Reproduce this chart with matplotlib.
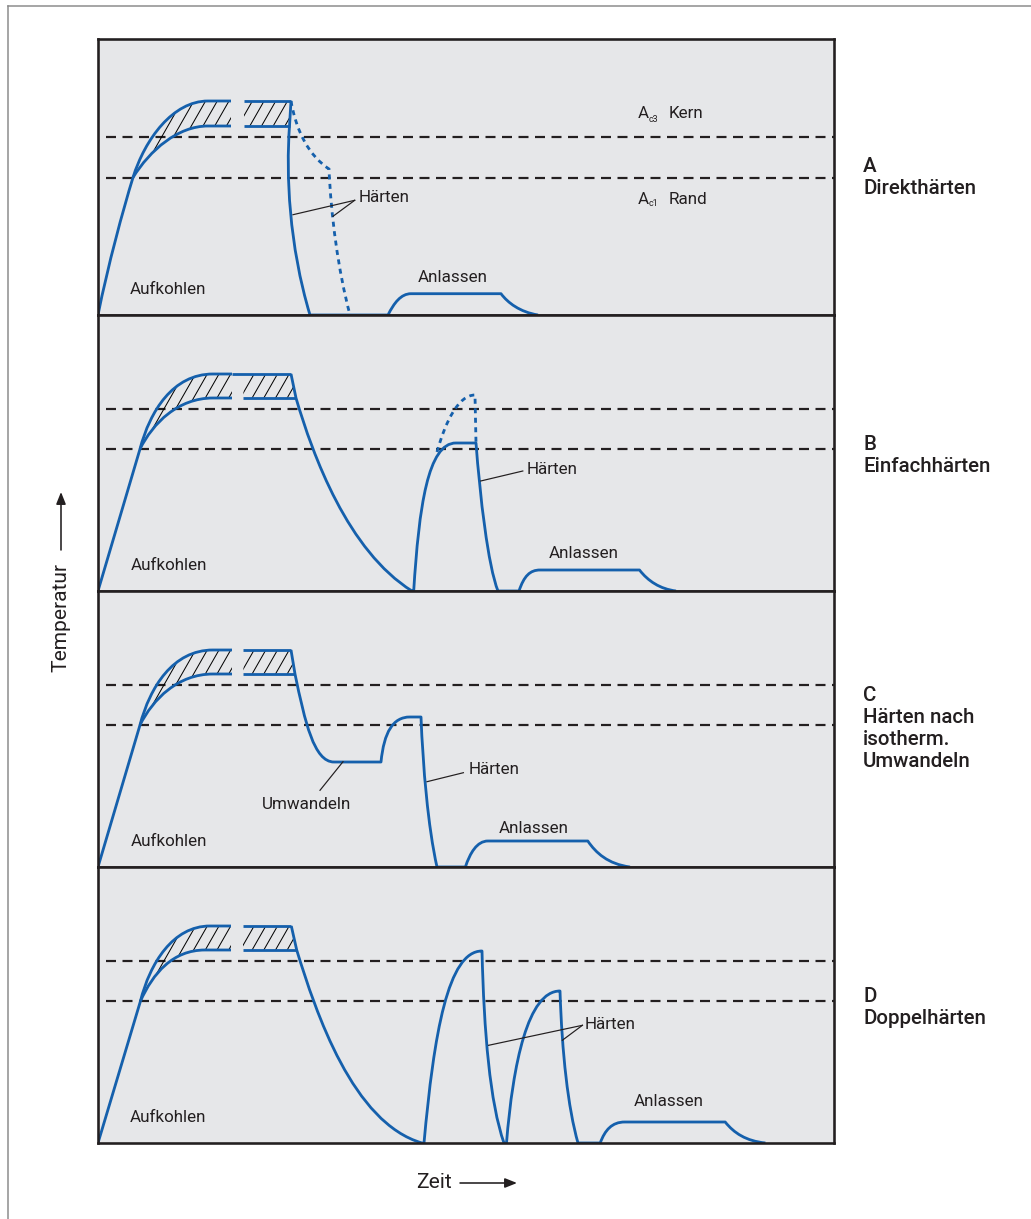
import matplotlib
matplotlib.use("Agg")
import numpy as np
import matplotlib.pyplot as plt
from matplotlib.path import Path
from matplotlib.patches import PathPatch, FancyArrowPatch

plt.rcParams['font.family'] = ['Roboto', 'DejaVu Sans']
plt.rcParams['lines.scale_dashes'] = False

BLUE = '#1560ac'
INK = '#231f20'
GRAY_BG = '#e6e7e9'

# Zeit / Temperatur in willkuerlichen Einheiten (x: 0..736, y: 0..276 je Feld)
# Kurven: Startpunkt, dann Punkt (Linie) oder ((c1), (c2), Ende) (Bezier)

PANEL_NAMES = ['A\nDirekthärten', 'B\nEinfachhärten',
               'C\nHärten nach\nisotherm.\nUmwandeln', 'D\nDoppelhärten']
PANEL_LABEL_Y = [137, 136, 138, 136]
AC3 = [178, 182, 182, 182]
AC1 = [137.5, 141.7, 142, 141.7]

# --- A: Direkthaerten
A_RAMP = [(0, 0), ((10, 50), (25, 105), (35, 137.5))]
A_UPPER = [(35, 137.5), ((47, 176), (75, 214), (110, 214)), (133, 214)]
A_LOWER = [(35, 137.5), ((52, 165), (80, 189), (110, 189)), (133, 189)]
A_HATCH2 = [(146, 189), (146, 214), (193, 214), (191.5, 189)]
A_UPPER2 = [(146, 214), (193, 214)]
A_LOWER2 = [(146, 189), (191.5, 189)]
A_QUENCH = [(193, 214), (191.5, 189), ((188, 140), (191, 70), (212, 0)), (290, 0),
            ((296, 12), (303, 21.3), (313, 21.3)), (403, 21.3),
            ((410, 12), (422, 3), (440, 0))]
A_DOTTED = [(193, 214), ((198, 185), (210, 160), (231, 146)),
            ((233, 100), (240, 45), (252, 0))]

# --- B: Einfachhaerten
B_RAMP = [(0, 0), (42, 142)]
B_UPPER = [(42, 142), ((52, 180), (75, 217), (115, 217)), (134, 217)]
B_LOWER = [(42, 142), ((55, 168), (80, 193), (115, 193)), (134, 193)]
B_HATCH2 = [(145.4, 193), (145.4, 217), (193, 217), (198, 193)]
B_UPPER2 = [(134, 217), (193, 217)]
B_LOWER2 = [(145.4, 193), (198, 193)]
B_QUENCH = [(193, 217), (198, 193), ((215, 135), (250, 40), (314, 0)), (315.7, 0),
            ((321, 85), (330, 148), (358, 148)), (378, 148),
            ((382, 95), (390, 25), (400, 0)), (421, 0),
            ((426, 15), (432, 21), (442, 21)), (541.5, 21),
            ((550, 10), (562, 2), (578, 0))]
B_DOTTED = [(339, 139), ((347, 168), (360, 196), (377, 196)), (378, 148)]

# --- C: Haerten nach isothermem Umwandeln
C_RAMP = [(0, 0), (42, 142)]
C_UPPER = [(42, 142), ((52, 180), (75, 217), (115, 217)), (134, 217)]
C_LOWER = [(42, 142), ((55, 168), (80, 193), (115, 193)), (134, 193)]
C_HATCH2 = [(145.4, 193), (145.4, 217), (193, 217), (197, 193)]
C_UPPER2 = [(145.4, 217), (193, 217)]
C_LOWER2 = [(145.4, 193), (197, 193)]
C_QUENCH = [(193, 217), (197, 193), ((207, 145), (216, 105), (236, 105)), (283, 105),
            ((286, 135), (295, 150), (312, 150)), (323, 150),
            ((325, 100), (330, 40), (339, 0)), (367.4, 0),
            ((372, 14), (379, 26), (390, 26)), (489.8, 26),
            ((498, 14), (510, 3), (532, 0))]

# --- D: Doppelhaerten
D_RAMP = [(0, 0), (42.4, 141.7)]
D_UPPER = [(42.4, 141.7), ((52, 180), (75, 217), (112, 217)), (133, 217)]
D_LOWER = [(42.4, 141.7), ((55, 170), (75, 193), (107, 193)), (133, 193)]
D_HATCH2 = [(145, 193), (145, 217), (193.3, 217), (198.7, 193)]
D_UPPER2 = [(145, 217), (193.3, 217)]
D_LOWER2 = [(145, 193), (198.7, 193)]
D_QUENCH = [(193.3, 217), (198.7, 193), ((218, 130), (255, 20), (324, 0)), (326, 0),
            ((336, 110), (350, 192), (384, 192)),
            ((386, 110), (392, 40), (406, 0)), (408.5, 0),
            ((415, 80), (430, 152), (462, 152)),
            ((464, 90), (470, 35), (480, 0)), (502.2, 0),
            ((507, 13), (514, 21), (526.8, 21)), (627.2, 21),
            ((636, 10), (648, 2), (667.4, 0))]

# Beschriftungen: (Text, x, y, Ausrichtung)
A_TEXTS = [('Aufkohlen', 32, 25, 'left'), ('Härten', 260.7, 118, 'left'),
           ('Anlassen', 355, 38, 'center')]
B_TEXTS = [('Aufkohlen', 32.5, 25.3, 'left'), ('Härten', 428.6, 121.7, 'left'),
           ('Anlassen', 486, 37.7, 'center')]
C_TEXTS = [('Aufkohlen', 32.5, 25.3, 'left'), ('Härten', 370.4, 97.7, 'left'),
           ('Anlassen', 435.5, 38.7, 'center'), ('Umwandeln', 208.5, 62.7, 'center')]
D_TEXTS = [('Aufkohlen', 32, 25.3, 'left'), ('Härten', 486.6, 118.7, 'left'),
           ('Anlassen', 570.5, 41, 'center')]

# Hinweislinien: (von, nach)
A_LEADERS = [((256.7, 114.7), (195, 100.3)), ((256.7, 114.7), (235, 98.7))]
B_LEADERS = [((424.8, 120), (382.7, 110))]
C_LEADERS = [((365.4, 94.3), (329, 85.3)), ((222, 76.7), (245, 105.3))]
D_LEADERS = [((484.4, 117.7), (390.6, 97.7)), ((484.4, 117.7), (464.3, 102.7))]

HATCH_STEP = 11.7   # Abstand der Schraffurlinien
HATCH_SLOPE = 1.75  # Steigung der Schraffur


def make_path(curve):
    verts, codes = [curve[0]], [Path.MOVETO]
    for seg in curve[1:]:
        if isinstance(seg[0], tuple):
            verts += list(seg)
            codes += [Path.CURVE4] * 3
        else:
            verts.append(seg)
            codes.append(Path.LINETO)
    return verts, codes


def hatch_path(upper, lower):
    uv, uc = make_path(upper)
    lv, lc = make_path(lower)
    n = len(lv)
    rv = lv[::-1]
    rc = [Path.LINETO] + [lc[n - k] for k in range(1, n)]
    return Path(uv + rv + [uv[0]], uc + rc + [Path.CLOSEPOLY])


def draw_hatch(ax, path):
    patch = PathPatch(path, facecolor='none', edgecolor='none', lw=0)
    ax.add_patch(patch)
    ys = np.array([120, 260])
    for x0 in np.arange(-120, 260, HATCH_STEP):
        ln, = ax.plot(x0 + ys / HATCH_SLOPE, ys, color='black', lw=1.0, zorder=2)
        ln.set_clip_path(patch)


def draw_curve(ax, curve, **kw):
    v, c = make_path(curve)
    ax.add_patch(PathPatch(Path(v, c), facecolor='none', edgecolor=BLUE,
                           lw=2.8, capstyle='butt', joinstyle='round', **kw))


def draw_panel(ax, i, ramp, upper, lower, hatch2, upper2, lower2, quench,
               texts, leaders, dotted=None):
    ax.set_xlim(0, 736)
    ax.set_ylim(0, 276)
    ax.set_facecolor(GRAY_BG)
    ax.set_xticks([])
    ax.set_yticks([])
    for s in ax.spines.values():
        s.set_linewidth(2.6)
        s.set_color(INK)
        s.set_zorder(5)

    for y in (AC3[i], AC1[i]):
        ax.plot([8, 736], [y, y], color=INK, lw=2.2, dashes=(10, 6.5), zorder=1)

    draw_hatch(ax, hatch_path(upper, lower))
    hv = hatch2 + [hatch2[0]]
    draw_hatch(ax, Path(hv, [Path.MOVETO] + [Path.LINETO] * 3 + [Path.CLOSEPOLY]))

    for crv in (ramp, upper, lower, upper2, lower2, quench):
        draw_curve(ax, crv, zorder=3)
    if dotted is not None:
        v, c = make_path(dotted)
        ax.add_patch(PathPatch(Path(v, c), facecolor='none', edgecolor=BLUE, lw=2.8,
                               linestyle=(0, (5, 4.5)), zorder=3))

    for (x0, y0), (x1, y1) in leaders:
        ax.plot([x0, x1], [y0, y1], color=INK, lw=1.2, zorder=4)
    for txt, x, y, ha in texts:
        ax.text(x, y, txt, ha=ha, va='center', fontsize=17, color=INK, zorder=4)

    ax.text(765, PANEL_LABEL_Y[i], PANEL_NAMES[i], ha='left', va='center', fontsize=20.5,
            fontweight='medium', color=INK, linespacing=1.2, clip_on=False)


fig = plt.figure(figsize=(1031 / 72, 1219 / 72), dpi=72)
W, H = 1031, 1219
bottoms = [315, 591, 867, 1143]
axes = [fig.add_axes([98 / W, 1 - b / H, 736 / W, 276 / H]) for b in bottoms]

draw_panel(axes[0], 0, A_RAMP, A_UPPER, A_LOWER, A_HATCH2, A_UPPER2, A_LOWER2,
           A_QUENCH, A_TEXTS, A_LEADERS, A_DOTTED)
draw_panel(axes[1], 1, B_RAMP, B_UPPER, B_LOWER, B_HATCH2, B_UPPER2, B_LOWER2,
           B_QUENCH, B_TEXTS, B_LEADERS, B_DOTTED)
draw_panel(axes[2], 2, C_RAMP, C_UPPER, C_LOWER, C_HATCH2, C_UPPER2, C_LOWER2,
           C_QUENCH, C_TEXTS, C_LEADERS)
draw_panel(axes[3], 3, D_RAMP, D_UPPER, D_LOWER, D_HATCH2, D_UPPER2, D_LOWER2,
           D_QUENCH, D_TEXTS, D_LEADERS)

# Ac-Linien beschriften (oberes Feld)
ax = axes[0]
for y, sub, name in ((201, 'c3', 'Kern'), (116, 'c1', 'Rand')):
    ax.text(540, y, 'A', ha='left', va='center', fontsize=17, color=INK)
    ax.text(551, y - 5, sub, ha='left', va='center', fontsize=9, color=INK)
    ax.text(571, y, name, ha='left', va='center', fontsize=17, color=INK)

# Achsenbeschriftungen mit Pfeilen
fig.text(61 / W, 1 - 618 / H, 'Temperatur', rotation=90, ha='center', va='center',
         fontsize=21, color=INK)
fig.add_artist(FancyArrowPatch(
    (61 / W, 1 - 552 / H), (61 / W, 1 - 490 / H), transform=fig.transFigure,
    arrowstyle='-|>,head_length=10,head_width=4', color=INK, lw=1.6,
    mutation_scale=1))
fig.text(434 / W, 1 - 1183 / H, 'Zeit', ha='center', va='center', fontsize=21,
         color=INK)
fig.add_artist(FancyArrowPatch(
    (458 / W, 1 - 1183 / H), (519 / W, 1 - 1183 / H), transform=fig.transFigure,
    arrowstyle='-|>,head_length=10,head_width=4', color=INK, lw=1.6,
    mutation_scale=1))

# aeusserer Rahmen
fig.add_artist(plt.Line2D([8 / W, 1], [1 - 6 / H, 1 - 6 / H], transform=fig.transFigure,
                          color='#8a8a8a', lw=1.5))
fig.add_artist(plt.Line2D([8 / W, 8 / W], [0, 1 - 6 / H], transform=fig.transFigure,
                          color='#8a8a8a', lw=1.5))

fig.savefig('out.png', dpi=72, facecolor='white')
